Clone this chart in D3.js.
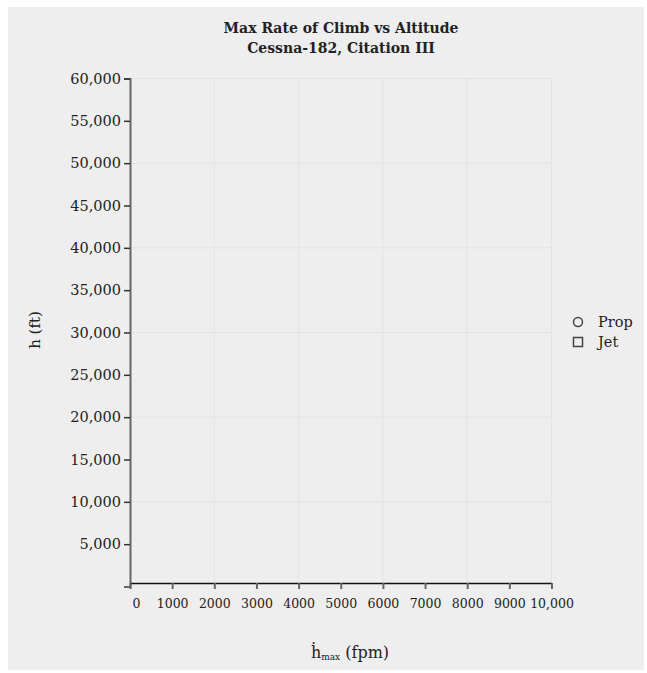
<!DOCTYPE html>
<html><head><meta charset="utf-8">
<script src="https://cdn.jsdelivr.net/npm/d3@7"></script>
<style>
body{margin:0;background:#fff;}
svg{position:absolute;left:8px;top:7px;background:#eeeeee;}
text{font-family:"DejaVu Serif",serif;fill:#222;}
</style></head><body>
<svg id="chart" width="636" height="663"></svg>
<script>
const titleLines = ["Max Rate of Climb vs Altitude", "Cessna-182, Citation III"];
const xTicks = [0,1000,2000,3000,4000,5000,6000,7000,8000,9000,10000];
const yTicks = [5000,10000,15000,20000,25000,30000,35000,40000,45000,50000,55000,60000];
const xGrid = [2000,4000,6000,8000,10000];
const yGrid = [10000,20000,30000,40000,50000,60000];
const seriesNames = ["Prop","Jet"];
const propData = [];   // no points visible in the reference
const jetData = [];

const svg = d3.select("#chart");
const ox = 8, oy = 7;
const x = d3.scaleLinear().domain([0,10000]).range([130-ox, 551.5-ox]);
const y = d3.scaleLinear().domain([0,60000]).range([586.5-oy, 78.5-oy]);
const g = svg.append("g");

// grid
g.selectAll(".vg").data(xGrid).enter().append("line")
  .attr("x1",d=>x(d)).attr("x2",d=>x(d)).attr("y1",y(60000)).attr("y2",583-oy)
  .attr("stroke","#e3e3e3").attr("stroke-width",1);
g.selectAll(".hg").data(yGrid).enter().append("line")
  .attr("x1",x(0)).attr("x2",x(10000)).attr("y1",d=>y(d)).attr("y2",d=>y(d))
  .attr("stroke","#e3e3e3").attr("stroke-width",1);

// y axis
const ya = g.append("g").attr("transform",`translate(${x(0)},0)`)
  .call(d3.axisLeft(y).tickValues(yTicks).tickFormat(d3.format(",")).tickSize(6).tickSizeOuter(6));
ya.select(".domain").attr("stroke","#666").attr("stroke-width",2);
ya.selectAll(".tick line").attr("stroke","#333").attr("stroke-width",1.5);
ya.selectAll(".tick text").attr("font-family","DejaVu Serif").attr("font-size",14.5).attr("fill","#2a2a2a");

// x axis
const xa = g.append("g").attr("transform",`translate(0,${583-oy})`)
  .call(d3.axisBottom(x).tickValues(xTicks).tickFormat(d=>d===10000?"10,000":d3.format("d")(d)).tickSize(6).tickSizeOuter(0));
xa.select(".domain").attr("stroke","#111").attr("stroke-width",1.5);
xa.selectAll(".tick line").attr("stroke","#666").attr("stroke-width",2);
xa.selectAll(".tick text").attr("font-family","DejaVu Serif").attr("font-size",12.5).attr("fill","#2a2a2a").attr("dy","1.25em")
  .attr("dx",d=>d===0?6:0);

// points (none in reference)
g.selectAll(".prop").data(propData).enter().append("circle")
  .attr("cx",d=>x(d.roc)).attr("cy",d=>y(d.h)).attr("r",5).attr("fill","none").attr("stroke","#444");
g.selectAll(".jet").data(jetData).enter().append("rect")
  .attr("x",d=>x(d.roc)-5).attr("y",d=>y(d.h)-5).attr("width",10).attr("height",10).attr("fill","none").attr("stroke","#444");

// title
g.selectAll(".title").data(titleLines).enter().append("text")
  .attr("x",341-ox).attr("y",(d,i)=>33-oy+i*20).attr("text-anchor","middle")
  .attr("font-weight","bold").attr("font-size",14).attr("fill","#111").text(d=>d);

// axis labels
g.append("text").attr("transform",`translate(${40-ox},${330-oy}) rotate(-90)`)
  .attr("text-anchor","middle").attr("font-size",15).attr("fill","#222").text("h (ft)");
const xl = g.append("text").attr("x",350-ox).attr("y",658-oy).attr("text-anchor","middle").attr("font-size",16).attr("fill","#222");
xl.append("tspan").text("ḣ");
xl.append("tspan").attr("font-size",9).attr("dy",2).text("max");
xl.append("tspan").attr("dy",-2).text(" (fpm)");

// legend
const lg = g.append("g").attr("transform",`translate(${578-ox},${322-oy})`);
lg.selectAll(".li").data(seriesNames).enter().append("g")
  .attr("transform",(d,i)=>`translate(0,${i*20})`)
  .each(function(d,i){
    const s = d3.select(this);
    if(i===0) s.append("circle").attr("r",4.5).attr("fill","none").attr("stroke","#444").attr("stroke-width",1.5);
    else s.append("rect").attr("x",-4.5).attr("y",-4.5).attr("width",9).attr("height",9).attr("fill","none").attr("stroke","#444").attr("stroke-width",1.5);
    s.append("text").attr("x",20).attr("y",5).attr("font-size",14.5).attr("fill","#222").text(d);
  });
</script></body></html>
